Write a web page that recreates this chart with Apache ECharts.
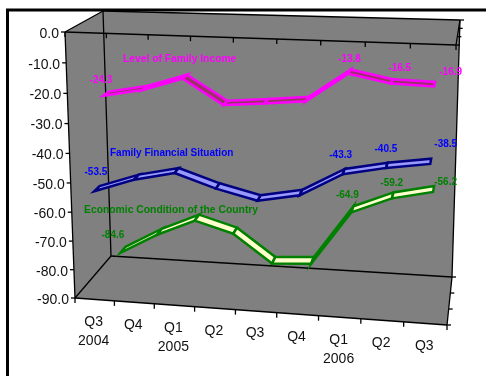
<!DOCTYPE html>
<html>
<head>
<meta charset="utf-8">
<style>html,body{margin:0;padding:0;background:#fff}#chart{width:486px;height:376px}</style>
<script src="https://cdn.jsdelivr.net/npm/echarts@6/dist/echarts.min.js"></script>
</head>
<body>
<div id="chart"></div>
<script>
// Survey indices by quarter
const quarters = ['Q3\n2004', 'Q4', 'Q1\n2005', 'Q2', 'Q3', 'Q4', 'Q1\n2006', 'Q2', 'Q3'];
const yTicks = [0, -10, -20, -30, -40, -50, -60, -70, -80, -90];
const familyIncome = [-24.3, -21.8, -17.5, -25.8, -24.7, -23.4, -13.8, -16.5, -16.9];
const familyFinances = [-53.5, -48.8, -45.8, -50.3, -53.6, -51.0, -43.3, -40.5, -38.5];
const economicCondition = [-84.6, -77.0, -71.0, -75.0, -85.0, -84.2, -64.9, -59.2, -56.2];
const labelledPoints = [0, 6, 7, 8];

const FONT = '"Liberation Sans", Arial, sans-serif';

// Box corners of the 3D plot on screen, as [x, y]
const FRONT = { tl: [65, 32], tr: [456, 45], bl: [75, 298], br: [447, 325] };
const BACK = { tl: [103, 11], tr: [460, 20], bl: [111, 256], br: [452, 277] };

// Projective map from the unit square onto a screen quadrilateral
function squareToQuad(q) {
  const [x0, y0] = q.tl, [x1, y1] = q.tr, [x2, y2] = q.br, [x3, y3] = q.bl;
  const dx1 = x1 - x2, dx2 = x3 - x2, sx = x0 - x1 + x2 - x3;
  const dy1 = y1 - y2, dy2 = y3 - y2, sy = y0 - y1 + y2 - y3;
  const den = dx1 * dy2 - dx2 * dy1;
  const g = (sx * dy2 - dx2 * sy) / den;
  const h = (dx1 * sy - sx * dy1) / den;
  const a = x1 - x0 + g * x1, b = x3 - x0 + h * x3, c = x0;
  const d = y1 - y0 + g * y1, e = y3 - y0 + h * y3, f = y0;
  return (u, v) => {
    const w = g * u + h * v + 1;
    return [(a * u + b * v + c) / w, (d * u + e * v + f) / w];
  };
}
const frontMap = squareToQuad(FRONT);
const backMap = squareToQuad(BACK);

// depth 0 is the front of the box, depth 1 the back wall
function project(u, v, depth) {
  const p = frontMap(u, v), q = backMap(u, v);
  return [p[0] + (q[0] - p[0]) * depth, p[1] + (q[1] - p[1]) * depth];
}

// Turn a value pair into unit coordinates inside the hidden cartesian grid
function unit(params, api, i, value) {
  const cs = params.coordSys;
  const pt = api.coord([i, value]);
  return [(pt[0] - cs.x) / cs.width, (pt[1] - cs.y) / cs.height];
}

const segment = (a, b, width) => ({
  type: 'line',
  shape: { x1: a[0], y1: a[1], x2: b[0], y2: b[1] },
  style: { stroke: '#000', lineWidth: width || 1.3 }
});

// Walls, floor, edges, ticks and axis labels
function renderBox(params, api) {
  const kids = [];
  const hull = [project(0, 0, 0), project(0, 0, 1), project(1, 0, 1), project(1, 1, 1), project(1, 1, 0), project(0, 1, 0)];
  kids.push({ type: 'polygon', shape: { points: hull }, style: { fill: '#808080', stroke: 'none' } });

  [
    [[0, 0, 0], [1, 0, 0]], [[0, 1, 0], [1, 1, 0]], [[0, 0, 0], [0, 1, 0]],
    [[0, 0, 1], [1, 0, 1]], [[0, 1, 1], [1, 1, 1]], [[0, 0, 1], [0, 1, 1]], [[1, 0, 1], [1, 1, 1]],
    [[0, 0, 0], [0, 0, 1]], [[0, 1, 0], [0, 1, 1]], [[1, 0, 0], [1, 0, 1]], [[1, 1, 0], [1, 1, 1]]
  ].forEach(([a, b]) => kids.push(segment(project(a[0], a[1], a[2]), project(b[0], b[1], b[2]))));

  // Value axis along the front-left edge
  yTicks.forEach((t) => {
    const [u, v] = unit(params, api, 0, t);
    const p = project(0, v, 0);
    kids.push(segment([p[0] - 4, p[1]], p));
    kids.push({
      type: 'text', x: p[0] - 6, y: p[1] + 2,
      style: { text: t.toFixed(1), font: '14px ' + FONT, fill: '#111', align: 'right', verticalAlign: 'middle' }
    });
  });

  // Category axis along the front edge, with matching ticks on the top edge
  const n = quarters.length;
  for (let i = 0; i <= n; i++) {
    const bottom = project(i / n, 1, 0), top = project(i / n, 0, 0);
    kids.push(segment(bottom, [bottom[0], bottom[1] + 5]));
    kids.push(segment(top, [top[0], top[1] + 5]));
  }
  quarters.forEach((q, i) => {
    const [u] = unit(params, api, i, 0);
    const p = project(u, 1, 0);
    kids.push({
      type: 'text', x: p[0] - 1, y: p[1] + 13,
      style: { text: q, font: '14px ' + FONT, fill: '#111', align: 'center', verticalAlign: 'top', lineHeight: 19 }
    });
  });

  // Depth ticks for the three series rows
  [0, 1 / 3, 2 / 3, 1].forEach((d) => {
    const low = project(1, 1, d), high = project(1, 0, d);
    kids.push(segment(low, [low[0] + 4, low[1]]));
    kids.push(segment(high, [high[0] + 4, high[1]]));
  });
  return { type: 'group', children: kids };
}

// One ribbon segment between a point and the next, lying flat across the depth of its row
function ribbon(depth, halfWidth, fill, stroke) {
  return function (params, api) {
    const i = params.dataIndexInside;
    if (i >= quarters.length - 1) return { type: 'group', children: [] };
    const [u0, v0] = unit(params, api, i, api.value(1, i));
    const [u1, v1] = unit(params, api, i + 1, api.value(1, i + 1));
    return {
      type: 'polygon',
      shape: {
        points: [
          project(u0, v0, depth - halfWidth), project(u1, v1, depth - halfWidth),
          project(u1, v1, depth + halfWidth), project(u0, v0, depth + halfWidth)
        ]
      },
      style: { fill, stroke, lineWidth: 2.5, lineJoin: 'miter' }
    };
  };
}

// Value labels placed relative to the projected point
function valueLabels(depth, colour, offsets) {
  return function (params, api) {
    const i = params.dataIndexInside;
    const at = labelledPoints.indexOf(i);
    if (at < 0) return { type: 'group', children: [] };
    const value = api.value(1, i);
    const [u, v] = unit(params, api, i, value);
    const p = project(u, v, depth);
    return {
      type: 'text', x: p[0] + offsets[at][0], y: p[1] + offsets[at][1],
      style: { text: value.toFixed(1), font: 'bold 10px ' + FONT, fill: colour, align: 'center', verticalAlign: 'middle' }
    };
  };
}

const pairs = (values) => values.map((v, i) => [i, v]);
const custom = (name, values, renderItem, z) => ({
  name, type: 'custom', coordinateSystem: 'cartesian2d', data: pairs(values),
  encode: { x: 0, y: 1 }, renderItem, silent: true, z, animation: false, clip: false
});

const rows = [
  { name: 'Economic Condition of the Country', values: economicCondition, depth: 5 / 6, fill: '#FFFFCC', stroke: '#008000', text: '#008000',
    offsets: [[-10, -15], [-5, -14], [-1, -12], [12, -7]] },
  { name: 'Level of Family Income', values: familyIncome, depth: 1 / 2, fill: '#993366', stroke: '#FF00FF', text: '#FF00FF',
    offsets: [[-5, -13], [0, -12], [8, -13], [16, -12]] },
  { name: 'Family Financial Situation', values: familyFinances, depth: 1 / 6, fill: '#9999FF', stroke: '#000080', text: '#0000FF',
    offsets: [[-1, -16], [-3, -16], [-1, -16], [15, -17]] }
];

const RIBBON_HALF_WIDTH = 0.075;
const series = [custom('box', [0], renderBox, 1)];
series[0].data = [[0, 0]];
rows.forEach((r, k) => series.push(custom(r.name, r.values, ribbon(r.depth, RIBBON_HALF_WIDTH, r.fill, r.stroke), 2 + k)));
rows.forEach((r) => series.push(custom(r.name + ' values', r.values, valueLabels(r.depth, r.text, r.offsets), 6)));

const seriesTitles = [
  { text: rows[1].name, x: 123, y: 59, fill: rows[1].text, size: 10.3 },
  { text: rows[2].name, x: 110, y: 153, fill: rows[2].text, size: 10 },
  { text: rows[0].name, x: 84, y: 210, fill: rows[0].text, size: 10.35 }
];

const chart = echarts.init(document.getElementById('chart'), null, { renderer: 'canvas' });
chart.setOption({
  animation: false,
  backgroundColor: '#fff',
  grid: { left: 0, right: 0, top: 0, bottom: 0 },
  xAxis: { type: 'category', data: quarters, show: false },
  yAxis: { type: 'value', min: -90, max: 0, interval: 10, show: false },
  graphic: [
    { type: 'rect', shape: { x: 7.5, y: 10, width: 490, height: 380 }, style: { fill: 'none', stroke: '#000', lineWidth: 3 }, z: 0, silent: true },
    ...seriesTitles.map((t) => ({
      type: 'text', x: t.x, y: t.y, z: 10, silent: true,
      style: { text: t.text, font: 'bold ' + t.size + 'px ' + FONT, fill: t.fill, align: 'left', verticalAlign: 'middle' }
    }))
  ],
  series
});
</script>
</body>
</html>
